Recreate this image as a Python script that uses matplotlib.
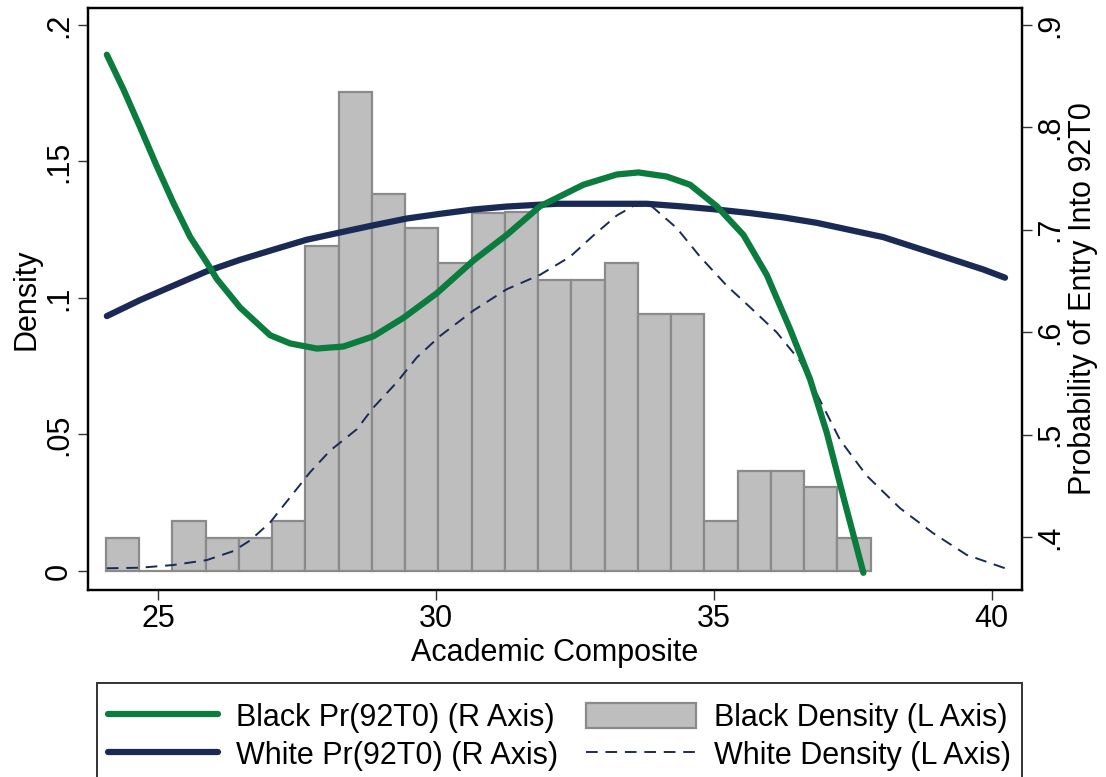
import matplotlib
matplotlib.use("Agg")
import matplotlib.pyplot as plt
from matplotlib.patches import Patch, Rectangle
from matplotlib.lines import Line2D

plt.rcParams['font.family'] = ['Liberation Sans', 'DejaVu Sans']

# ---------------- data ----------------
bin_start = 24.055
bin_width = 0.5985
black_density = [0.0122, 0.0, 0.0184, 0.0122, 0.0122, 0.0184, 0.1190, 0.1755,
                 0.1380, 0.1255, 0.1127, 0.1310, 0.1315, 0.1065, 0.1065, 0.1127,
                 0.0940, 0.0940, 0.0184, 0.0368, 0.0368, 0.0308, 0.0122]

black_pr_x = [24.07, 24.37, 24.67, 24.97, 25.27, 25.57, 25.87, 26.05, 26.47, 27.01,
              27.37, 27.85, 28.33, 28.87, 29.41, 30.01, 30.67, 31.27, 31.87, 32.65,
              33.25, 33.64, 34.15, 34.57, 35.05, 35.53, 35.95, 36.37, 36.73, 37.03,
              37.33, 37.69]
black_pr_y = [0.871, 0.837, 0.800, 0.762, 0.726, 0.693, 0.668, 0.652, 0.624, 0.597,
              0.589, 0.584, 0.586, 0.596, 0.614, 0.638, 0.670, 0.695, 0.723, 0.744,
              0.754, 0.756, 0.752, 0.744, 0.723, 0.695, 0.656, 0.603, 0.554, 0.502,
              0.439, 0.365]

white_pr_x = [24.07, 24.67, 25.27, 25.87, 26.47, 27.07, 27.67, 28.27, 28.87, 29.47,
              30.07, 30.67, 31.27, 32.17, 32.95, 33.79, 34.45, 35.05, 35.65, 36.25,
              36.85, 37.45, 38.05, 38.65, 39.25, 39.85, 40.24]
white_pr_y = [0.6157, 0.6314, 0.6455, 0.6595, 0.6707, 0.6806, 0.6903, 0.6974, 0.7044,
              0.7110, 0.7156, 0.7198, 0.7227, 0.7254, 0.7254, 0.7254, 0.7227, 0.7198,
              0.7163, 0.7121, 0.7068, 0.6998, 0.6928, 0.6823, 0.6718, 0.6612, 0.6532]

white_dens_x = [24.07, 24.67, 25.27, 25.87, 26.35, 26.65, 27.01, 27.37, 27.73, 28.09,
                28.57, 28.87, 29.29, 29.65, 30.07, 30.67, 31.27, 31.87, 32.41, 32.83,
                33.25, 33.55, 33.85, 34.33, 34.75, 35.23, 35.65, 36.13, 36.55, 36.91,
                37.27, 37.75, 38.35, 38.95, 39.55, 40.24]
white_dens_y = [0.0010, 0.0012, 0.0022, 0.0040, 0.0073, 0.0112, 0.0178, 0.0270, 0.0362,
                0.0441, 0.0519, 0.0599, 0.0691, 0.0782, 0.0861, 0.0954, 0.1032, 0.1085,
                0.1151, 0.1229, 0.1302, 0.1337, 0.1341, 0.1256, 0.1151, 0.1045, 0.0966,
                0.0874, 0.0769, 0.0625, 0.0480, 0.0349, 0.0230, 0.0138, 0.0059, 0.0010]

x_ticks = [25, 30, 35, 40]
x_tick_labels = ["25", "30", "35", "40"]
left_ticks = [0, 0.05, 0.1, 0.15, 0.2]
left_tick_labels = ["0", ".05", ".1", ".15", ".2"]
right_ticks = [0.4, 0.5, 0.6, 0.7, 0.8, 0.9]
right_tick_labels = [".4", ".5", ".6", ".7", ".8", ".9"]

labels = ["Black Pr(92T0) (R Axis)", "White Pr(92T0) (R Axis)",
          "Black Density (L Axis)", "White Density (L Axis)"]

# ---------------- style ----------------
GREEN = "#0b7c3e"
NAVY = "#1b2a55"
BAR_FACE = "#bebebe"
BAR_EDGE = "#8a8a8a"
FS = 22
W, H = 1106, 777

fig = plt.figure(figsize=(W / 100, H / 100), dpi=100)
ax = fig.add_axes([88 / W, 1 - 590 / H, (1021.7 - 88) / W, (590 - 8) / H])

bin_left = [bin_start + i * bin_width for i in range(len(black_density))]
ax.bar(bin_left, black_density, width=bin_width, align='edge', color=BAR_FACE,
       edgecolor=BAR_EDGE, linewidth=1.6, zorder=1)
ax.plot(white_dens_x, white_dens_y, color=NAVY, lw=1.4, dashes=(6, 4), zorder=2)

ax.set_xlim(23.731, 40.540)
ax.set_ylim(-0.00696, 0.2062)
ax.set_xticks(x_ticks)
ax.set_xticklabels(x_tick_labels)
ax.set_yticks(left_ticks)
ax.set_yticklabels(left_tick_labels, rotation=90, va='center')
ax.tick_params(axis='both', direction='out', length=7, width=1.0, labelsize=FS,
               color='#333333', pad=3)
ax.set_xlabel("Academic Composite", fontsize=FS, labelpad=3)
ax.set_ylabel("Density", fontsize=FS, labelpad=2)

ax2 = ax.twinx()
ax2.plot(white_pr_x, white_pr_y, color=NAVY, lw=4.5, solid_capstyle='round', zorder=3)
ax2.plot(black_pr_x, black_pr_y, color=GREEN, lw=4.5, solid_capstyle='round', zorder=4)
ax2.set_ylim(0.3482, 0.9166)
ax2.set_yticks(right_ticks)
ax2.set_yticklabels(right_tick_labels, rotation=90, va='center')
ax2.tick_params(axis='y', direction='out', length=7, width=1.0, labelsize=FS,
                color='#333333', pad=3)
ax2.set_ylabel("Probability of Entry Into 92T0", fontsize=FS, labelpad=2)

for a in (ax, ax2):
    for s in a.spines.values():
        s.set_linewidth(1.6)
        s.set_color('black')

# legend frame (extends past the bottom of the figure, as in the reference)
fig.patches.append(Rectangle((97 / W, -0.05), (1022 - 97) / W, (1 - 683 / H) + 0.05,
                             transform=fig.transFigure, facecolor='white',
                             edgecolor='#333333', linewidth=1.4, zorder=0))

handles = [
    Line2D([], [], color=GREEN, lw=4.5, solid_capstyle='round'),
    Line2D([], [], color=NAVY, lw=4.5, solid_capstyle='round'),
    Patch(facecolor=BAR_FACE, edgecolor=BAR_EDGE, linewidth=1.6),
    Line2D([], [], color=NAVY, lw=1.4, dashes=(6, 4)),
]
leg = fig.legend(handles, labels, ncol=2, loc='upper left',
                 bbox_to_anchor=(97 / W, 1 - 692 / H, (1022 - 97) / W, 0.0),
                 mode='expand', fontsize=FS, frameon=False,
                 handlelength=3.6, handleheight=0.92,
                 handletextpad=0.6, labelspacing=0.25, borderpad=0.35,
                 columnspacing=1.0, borderaxespad=0)

fig.savefig("out.png", dpi=100)
